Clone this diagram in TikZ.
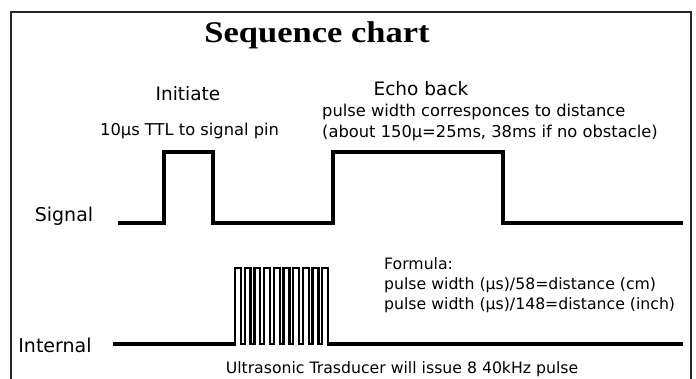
\documentclass[tikz,border=0pt]{standalone}
\usepackage{fontspec}
\setmainfont{DejaVu Sans}
\newfontfamily\titlefont{Liberation Serif}
\begin{document}
\begin{tikzpicture}[x=1pt,y=-1pt,
  wave/.style={line width=3.2pt, line join=miter, black},
  burstline/.style={line width=2.3pt, line join=miter, black},
  frameline/.style={line width=1.6pt, black!85},
  body/.style={font=\fontsize{16.3}{19}\selectfont, inner sep=0pt, anchor=base west},
  formula/.style={font=\fontsize{15.7}{19}\selectfont, inner sep=0pt, anchor=base west},
  head/.style={font=\fontsize{18.5}{22}\selectfont, inner sep=0pt, anchor=base},
  lbl/.style={font=\fontsize{19}{22}\selectfont, inner sep=0pt, anchor=base}]
\useasboundingbox (0,0) rectangle (696,378);
\fill[white] (0,0) rectangle (696,378);
\draw[frameline] (11,382) -- (11,12) -- (691,12) -- (691,382);
% title
\node[inner sep=0pt, anchor=base, font=\titlefont\bfseries\fontsize{30}{34}\selectfont] (title) at (317,42) {\scalebox{1.15}[1]{Sequence chart}};
% labels
\node[head] (init) at (188,100) {Initiate};
\node[head] (echo) at (421,95) {Echo back};
\node[body] (ttl) at (100,135) {10μs TTL to signal pin};
\node[body] (pw) at (322,116) {pulse width corresponces to distance};
\node[body] (about) at (322,137) {(about 150μ=25ms, 38ms if no obstacle)};
\node[lbl] (sig) at (64,221.5) {Signal};
\node[lbl] (int) at (55,352) {Internal};
\node[formula] (form) at (384,269) {Formula:};
\node[formula] (f1) at (384,289) {pulse width (μs)/58=distance (cm)};
\node[formula] (f2) at (384,309) {pulse width (μs)/148=distance (inch)};
\node[formula, anchor=base] (ultra) at (402,373) {Ultrasonic Trasducer will issue 8 40kHz pulse};
% signal waveform
\coordinate (s0) at (118,223);
\coordinate (s1) at (683,223);
\draw[wave] (s0) -- (164,223) -- (164,152) -- (213,152) -- (213,223) -- (333,223) -- (333,152) -- (503,152) -- (503,223) -- (s1);
% internal waveform
\coordinate (i0) at (113,344);
\coordinate (i1) at (683,344);
\draw[wave] (i0) -- (236,344);
\draw[burstline] (235,344) foreach \k in {0,...,9} { -- ({235+9.7*\k},344) -- ({235+9.7*\k},268) -- ({240.9+9.7*\k},268) -- ({240.9+9.7*\k},344) } -- (329,344);
\draw[wave] (327,344) -- (i1);
\end{tikzpicture}
\end{document}
